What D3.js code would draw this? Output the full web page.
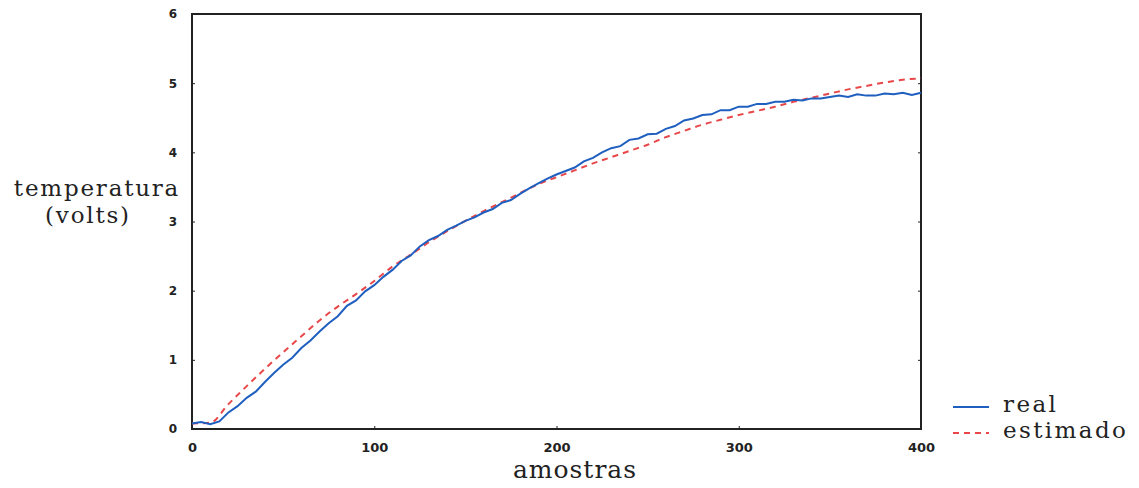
<!DOCTYPE html>
<html>
<head>
<meta charset="utf-8">
<script src="https://cdn.jsdelivr.net/npm/d3@7"></script>
<style>
  body { margin: 0; background: #fff; }
  .tick text { font-family: "DejaVu Sans", sans-serif; font-weight: bold; }
  .lbl { font-family: "DejaVu Serif", serif; fill: #222; }
</style>
</head>
<body>
<div id="chart"></div>
<script>
// amostras (samples) for each series
var realSamples = d3.range(0, 401, 5);
var realValues = [
  0.08, 0.10, 0.07, 0.11, 0.24, 0.33, 0.45, 0.54, 0.68, 0.81,
  0.93, 1.03, 1.17, 1.28, 1.41, 1.53, 1.63, 1.78, 1.86, 1.99,
  2.08, 2.20, 2.30, 2.43, 2.51, 2.64, 2.73, 2.79, 2.88, 2.94,
  3.01, 3.06, 3.13, 3.18, 3.27, 3.31, 3.40, 3.48, 3.55, 3.62,
  3.68, 3.73, 3.78, 3.87, 3.92, 4.00, 4.06, 4.09, 4.18, 4.20,
  4.26, 4.27, 4.34, 4.38, 4.46, 4.49, 4.54, 4.55, 4.61, 4.61,
  4.66, 4.66, 4.70, 4.70, 4.73, 4.73, 4.76, 4.75, 4.78, 4.78,
  4.80, 4.82, 4.80, 4.84, 4.82, 4.82, 4.85, 4.84, 4.86, 4.83,
  4.86
];
var estSamples = d3.range(0, 401, 10);
var estValues = [
  0.08, 0.09, 0.36, 0.62, 0.87, 1.11, 1.34, 1.57, 1.77, 1.95,
  2.14, 2.35, 2.52, 2.70, 2.86, 3.01, 3.15, 3.28, 3.41, 3.54,
  3.64, 3.74, 3.84, 3.93, 4.02, 4.11, 4.22, 4.31, 4.40, 4.47,
  4.54, 4.60, 4.66, 4.73, 4.79, 4.85, 4.91, 4.96, 5.01, 5.05,
  5.07
];
var xTicks = [0, 100, 200, 300, 400];
var yTicks = [0, 1, 2, 3, 4, 5, 6];
var legendNames = ["real", "estimado"];

var width = 1139, height = 488;
var plotL = 192, plotR = 921, plotT = 14, plotB = 429;

var svg = d3.select("#chart").append("svg")
  .attr("width", width)
  .attr("height", height);

var x = d3.scaleLinear().domain([0, 400]).range([plotL, plotR]);
var y = d3.scaleLinear().domain([0, 6]).range([plotB, plotT]);

// frame
svg.append("rect")
  .attr("x", plotL).attr("y", plotT)
  .attr("width", plotR - plotL).attr("height", plotB - plotT)
  .attr("fill", "none").attr("stroke", "#222").attr("stroke-width", 2);

// axes with small inward ticks
var yAxis = svg.append("g").attr("transform", "translate(" + plotL + ",0)")
  .call(d3.axisRight(y).tickValues(yTicks).tickSize(3).tickFormat(d3.format("d")));
yAxis.select(".domain").remove();
yAxis.selectAll("text").attr("x", -15).attr("text-anchor", "end").attr("font-size", 12).attr("fill", "#222");
yAxis.selectAll("line").attr("stroke", "#222");

var yAxisR = svg.append("g").attr("transform", "translate(" + plotR + ",0)")
  .call(d3.axisLeft(y).tickValues(yTicks.slice(1, 6)).tickSize(3).tickFormat(""));
yAxisR.select(".domain").remove();
yAxisR.selectAll("line").attr("stroke", "#222");

var xAxis = svg.append("g").attr("transform", "translate(0," + plotB + ")")
  .call(d3.axisTop(x).tickValues(xTicks).tickSize(3).tickFormat(d3.format("d")));
xAxis.select(".domain").remove();
xAxis.selectAll("text").attr("y", 23).attr("font-size", 13).attr("fill", "#222");
xAxis.selectAll("line").attr("stroke", "#222");

// series
var realLine = d3.line()
  .x(function(d, i) { return x(realSamples[i]); })
  .y(function(d) { return y(d); });
var estLine = d3.line()
  .x(function(d, i) { return x(estSamples[i]); })
  .y(function(d) { return y(d); })
  .curve(d3.curveMonotoneX);

svg.append("path")
  .datum(estValues)
  .attr("fill", "none")
  .attr("stroke", "#e8474a")
  .attr("stroke-width", 2)
  .attr("stroke-dasharray", "6,5")
  .attr("d", estLine);

svg.append("path")
  .datum(realValues)
  .attr("fill", "none")
  .attr("stroke", "#1f5fbf")
  .attr("stroke-width", 2)
  .attr("d", realLine);

// axis labels
svg.append("text").attr("class", "lbl")
  .attr("x", 97).attr("y", 196).attr("text-anchor", "middle")
  .attr("font-size", 23).attr("letter-spacing", 1.8).text("temperatura");
svg.append("text").attr("class", "lbl")
  .attr("x", 88).attr("y", 223).attr("text-anchor", "middle")
  .attr("font-size", 23).attr("letter-spacing", 1.8).text("(volts)");
svg.append("text").attr("class", "lbl")
  .attr("x", 575).attr("y", 478).attr("text-anchor", "middle")
  .attr("font-size", 25).attr("letter-spacing", 1).text("amostras");

// legend
var legend = svg.append("g").attr("transform", "translate(953,407)");
legend.selectAll("line")
  .data(legendNames)
  .enter().append("line")
  .attr("x1", 0).attr("x2", 36)
  .attr("y1", function(d, i) { return i * 26; })
  .attr("y2", function(d, i) { return i * 26; })
  .attr("stroke", function(d, i) { return i ? "#e8474a" : "#1f5fbf"; })
  .attr("stroke-width", 2)
  .attr("stroke-dasharray", function(d, i) { return i ? "6,5" : null; });
legend.selectAll("text")
  .data(legendNames)
  .enter().append("text")
  .attr("class", "lbl")
  .attr("x", 50)
  .attr("y", function(d, i) { return i * 26 + 5; })
  .attr("font-size", 23)
  .attr("letter-spacing", 2.4)
  .text(function(d) { return d; });
</script>
</body>
</html>
